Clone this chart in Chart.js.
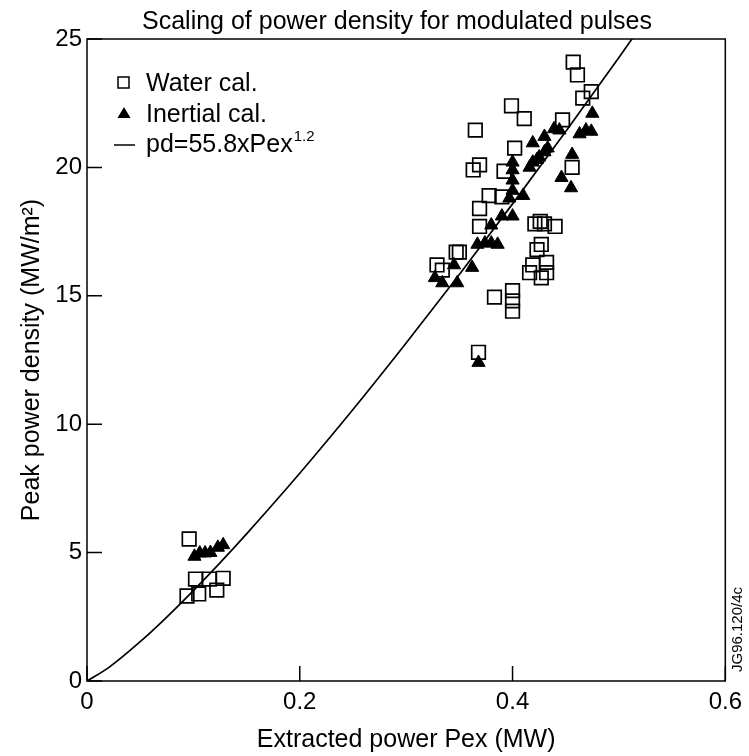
<!DOCTYPE html>
<html><head><meta charset="utf-8">
<script src="https://cdn.jsdelivr.net/npm/chart.js@4/dist/chart.umd.min.js"></script>
<style>html,body{margin:0;padding:0;background:#fff}#wrap{width:749px;height:756px;position:relative}</style>
</head><body><div id="wrap"><canvas id="c" width="749" height="756"></canvas></div>
<script>
const chartTitle = 'Scaling of power density for modulated pulses';
const xAxisTitle = 'Extracted power Pex (MW)';
const yAxisTitle = 'Peak power density (MW/m²)';
const legendLabels = ['Water cal.', 'Inertial cal.', 'pd=55.8xPex'];
const legendSup = '1.2';
const figureTag = 'JG96.120/4c';

const waterX = [0.096,0.102,0.115,0.128,0.094,0.105,0.122,
  0.457,0.461,0.474,0.466,0.399,0.411,0.447,0.365,0.402,0.369,0.363,0.392,0.456,
  0.378,0.369,0.390,0.369,0.350,0.347,0.329,0.334,
  0.421,0.430,0.440,0.426,0.423,0.427,0.432,0.419,0.416,0.427,0.432,
  0.383,0.400,0.400,0.400,0.368];
const waterY = [5.53,3.97,3.97,4.0,3.31,3.39,3.54,
  24.1,23.6,22.95,22.7,22.4,21.9,21.85,21.45,20.75,20.1,19.9,19.85,20.0,
  18.9,18.4,18.85,17.7,16.7,16.7,16.2,16.0,
  17.8,17.8,17.7,17.9,16.8,17.0,16.3,16.2,15.9,15.7,15.9,
  14.95,15.2,14.8,14.4,12.8];

const inertialX = [0.101,0.106,0.111,0.116,0.123,0.128,
  0.327,0.334,0.348,0.362,0.345,
  0.367,0.374,0.380,0.386,
  0.380,0.390,0.400,
  0.397,0.400,0.410,
  0.400,0.400,0.400,
  0.416,0.419,0.423,0.425,
  0.430,0.433,
  0.419,0.430,0.439,0.444,
  0.456,0.446,0.455,
  0.463,0.469,0.474,0.475,
  0.368];
const inertialY = [4.85,4.98,4.98,5.0,5.2,5.3,
  15.7,15.5,15.5,16.1,16.2,
  17.0,17.05,17.05,17.0,
  17.75,18.1,18.1,
  18.8,19.1,18.9,
  19.5,19.9,20.2,
  20.0,20.2,20.3,20.4,
  20.6,20.75,
  20.95,21.2,21.5,21.45,
  20.5,19.6,19.2,
  21.3,21.45,21.4,22.1,
  12.4];

const fitX = [0, 0.02, 0.05, 0.075, 0.1, 0.125, 0.15, 0.2, 0.25, 0.3, 0.35, 0.4, 0.45, 0.5, 0.52];
const fitY = [0, 0.51, 1.53, 2.49, 3.52, 4.60, 5.73, 8.09, 10.57, 13.16, 15.83, 18.58, 21.40, 24.28, 25.46];

const FONT = '"Liberation Sans", Arial, Helvetica, sans-serif';
const zip = (xs, ys) => xs.map((x, i) => ({x: x, y: ys[i]}));

const decor = {
  id: 'decor',
  afterDraw(chart) {
    const ctx = chart.ctx, a = chart.chartArea;
    const xs = chart.scales.x, ys = chart.scales.y;
    ctx.save();
    ctx.strokeStyle = '#000';
    ctx.lineWidth = 1.5;
    ctx.strokeRect(a.left, a.top, a.right - a.left, a.bottom - a.top);
    // inward tick marks
    ctx.beginPath();
    xs.ticks.forEach(t => {
      const px = xs.getPixelForValue(t.value);
      ctx.moveTo(px, a.bottom); ctx.lineTo(px, a.bottom - 15);
    });
    ys.ticks.forEach(t => {
      const py = ys.getPixelForValue(t.value);
      ctx.moveTo(a.left, py); ctx.lineTo(a.left + 15, py);
    });
    ctx.stroke();
    ctx.fillStyle = '#000';
    // title
    ctx.font = '25px ' + FONT;
    ctx.textAlign = 'center'; ctx.textBaseline = 'alphabetic';
    ctx.fillText(chartTitle, 397, 29);
    // x title
    ctx.fillText(xAxisTitle, (a.left + a.right) / 2, 747);
    // y title
    ctx.save();
    ctx.translate(39, (a.top + a.bottom) / 2);
    ctx.rotate(-Math.PI / 2);
    ctx.fillText(yAxisTitle, 0, 0);
    ctx.restore();
    // legend
    ctx.textAlign = 'left';
    ctx.lineWidth = 1.5;
    ctx.strokeRect(118, 77, 11, 11);
    ctx.fillText(legendLabels[0], 146, 91);
    ctx.beginPath();
    ctx.moveTo(124, 107); ctx.lineTo(130.5, 118); ctx.lineTo(117.5, 118); ctx.closePath();
    ctx.fill();
    ctx.fillText(legendLabels[1], 146, 122);
    ctx.beginPath();
    ctx.moveTo(114, 145); ctx.lineTo(135, 145); ctx.stroke();
    ctx.fillText(legendLabels[2], 146, 152);
    const w = ctx.measureText(legendLabels[2]).width;
    ctx.font = '15px ' + FONT;
    ctx.fillText(legendSup, 146 + w + 1, 141);
    // tag
    ctx.save();
    ctx.font = '15px ' + FONT;
    ctx.translate(742, 672);
    ctx.rotate(-Math.PI / 2);
    ctx.textAlign = 'left';
    ctx.fillText(figureTag, 0, 0);
    ctx.restore();
    ctx.restore();
  }
};

new Chart(document.getElementById('c'), {
  type: 'scatter',
  data: {
    datasets: [
      {
        label: legendLabels[2], type: 'line', data: zip(fitX, fitY),
        borderColor: '#000', borderWidth: 1.7, pointRadius: 0, fill: false,
        cubicInterpolationMode: 'monotone', order: 3
      },
      {
        label: legendLabels[0], data: zip(waterX, waterY),
        pointStyle: 'rect', pointRadius: 9.6, pointBorderWidth: 1.7,
        borderColor: '#000', backgroundColor: 'rgba(0,0,0,0)', order: 2
      },
      {
        label: legendLabels[1], data: zip(inertialX, inertialY),
        pointStyle: 'triangle', pointRadius: 7.6, pointBorderWidth: 1,
        borderColor: '#000', backgroundColor: '#000', order: 1
      }
    ]
  },
  options: {
    responsive: false, animation: false, devicePixelRatio: 1,
    layout: {padding: {top: 39, right: 23, left: 0, bottom: 0}},
    plugins: {legend: {display: false}, title: {display: false}, tooltip: {enabled: false}},
    scales: {
      x: {
        type: 'linear', min: 0, max: 0.6,
        afterFit: s => { s.height = 75; },
        ticks: {stepSize: 0.2, padding: 7, color: '#000', font: {family: FONT, size: 24}},
        grid: {display: false, drawTicks: false, tickLength: 0}, border: {display: false}
      },
      y: {
        type: 'linear', min: 0, max: 25,
        afterFit: s => { s.width = 87; },
        ticks: {stepSize: 5, padding: 5, color: '#000', font: {family: FONT, size: 24}},
        grid: {display: false, drawTicks: false, tickLength: 0}, border: {display: false}
      }
    }
  },
  plugins: [decor]
});
</script>
</body></html>
